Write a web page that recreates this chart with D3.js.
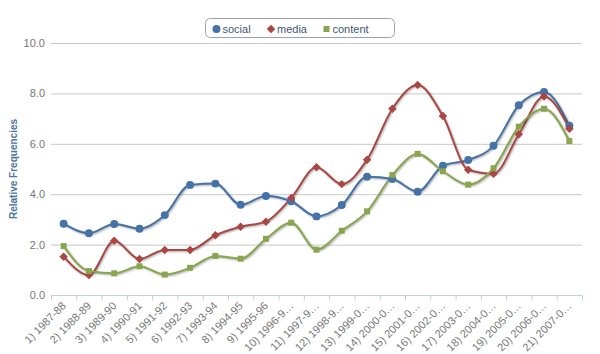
<!DOCTYPE html>
<html lang="en">
<head>
<meta charset="utf-8">
<script src="https://d3js.org/d3.v7.min.js"></script>
<style>
  body { margin: 0; background: #fff; }
  svg { font-family: "Lucida Grande", "Liberation Sans", Arial, sans-serif; }
</style>
</head>
<body>
<script>
// categories and series
const categories = ["1) 1987-88", "2) 1988-89", "3) 1989-90", "4) 1990-91", "5) 1991-92",
  "6) 1992-93", "7) 1993-94", "8) 1994-95", "9) 1995-96", "10) 1996-9\u2026", "11) 1997-9\u2026",
  "12) 1998-9\u2026", "13) 1999-0\u2026", "14) 2000-0\u2026", "15) 2001-0\u2026", "16) 2002-0\u2026",
  "17) 2003-0\u2026", "18) 2004-0\u2026", "19) 2005-0\u2026", "20) 2006-0\u2026", "21) 2007-0\u2026"];
const social = [2.83, 2.45, 2.82, 2.63, 3.17, 4.37, 4.42, 3.58, 3.93, 3.72, 3.12,
  3.57, 4.69, 4.6, 4.1, 5.13, 5.36, 5.92, 7.53, 8.06, 6.72];
const media = [1.52, 0.79, 2.15, 1.43, 1.79, 1.79, 2.37, 2.71, 2.91, 3.85, 5.07,
  4.4, 5.37, 7.39, 8.33, 7.1, 4.97, 4.81, 6.38, 7.88, 6.6];
const content = [1.94, 0.95, 0.86, 1.14, 0.81, 1.08, 1.55, 1.44, 2.23, 2.87, 1.8,
  2.55, 3.32, 4.76, 5.6, 4.91, 4.38, 5.03, 6.68, 7.39, 6.11];
const yTicks = [0, 2, 4, 6, 8, 10];

const width = 600, height = 354;
const margin = { left: 51, right: 18, top: 43, bottom: 59 };

// diamond = square turned 45 degrees
const series = [
  { name: "social", values: social, color: "#4572A7", symbol: d3.symbolCircle, size: 50, rot: 0 },
  { name: "media", values: media, color: "#AA4643", symbol: d3.symbolSquare, size: 36, rot: 45 },
  { name: "content", values: content, color: "#89A54E", symbol: d3.symbolSquare, size: 36, rot: 0 }
];

const svg = d3.select("body").append("svg")
  .attr("width", width)
  .attr("height", height);

const x = d3.scaleBand()
  .domain(categories)
  .range([margin.left, width - margin.right]);

const y = d3.scaleLinear()
  .domain([0, 10])
  .range([height - margin.bottom, margin.top]);

// grid lines
svg.append("g")
  .selectAll("line")
  .data(yTicks.filter(d => d > 0))
  .enter()
  .append("line")
  .attr("x1", margin.left)
  .attr("x2", width - margin.right)
  .attr("y1", d => y(d) + 0.5)
  .attr("y2", d => y(d) + 0.5)
  .attr("stroke", "#C8C8C8")
  .attr("stroke-width", 1);

// y axis labels
svg.append("g")
  .selectAll("text")
  .data(yTicks)
  .enter()
  .append("text")
  .attr("x", margin.left - 6)
  .attr("y", d => y(d) + 4)
  .attr("text-anchor", "end")
  .attr("fill", "#777")
  .attr("font-size", "11px")
  .text(d => d.toFixed(1));

// y axis title
svg.append("text")
  .attr("transform", "translate(17," + (margin.top + (height - margin.bottom - margin.top) / 2) + ") rotate(-90)")
  .attr("text-anchor", "middle")
  .attr("fill", "#4D759E")
  .attr("font-size", "10px")
  .attr("font-weight", "bold")
  .text("Relative Frequencies");

// x axis
const gx = svg.append("g")
  .attr("transform", "translate(0," + (height - margin.bottom + 0.5) + ")");
gx.append("line")
  .attr("x1", margin.left).attr("x2", width - margin.right)
  .attr("stroke", "#C0D0E0");
// ticks on category boundaries
gx.selectAll("line.tick")
  .data(categories.concat([null]))
  .enter()
  .append("line")
  .attr("class", "tick")
  .attr("x1", (d, i) => margin.left + i * x.step() + 0.5)
  .attr("x2", (d, i) => margin.left + i * x.step() + 0.5)
  .attr("y1", 0).attr("y2", 5)
  .attr("stroke", "#C0D0E0");

gx.selectAll("text")
  .data(categories)
  .enter()
  .append("text")
  .attr("transform", d => "translate(" + (x(d) + x.bandwidth() / 2 + 3) + ",11) rotate(-45)")
  .attr("text-anchor", "end")
  .attr("fill", "#777")
  .attr("font-size", "11px")
  .text(d => d);

const cx = (d, i) => x(categories[i]) + x.bandwidth() / 2;
const line = d3.line()
  .x(cx)
  .y(d => y(d))
  .curve(d3.curveMonotoneX);

// series lines with a light shadow
series.forEach(s => {
  const g = svg.append("g");
  [[5, 0.05], [3, 0.1], [1, 0.15]].forEach(([w, o]) => {
    g.append("path")
      .attr("d", line(s.values))
      .attr("transform", "translate(1,1)")
      .attr("fill", "none")
      .attr("stroke", "#000")
      .attr("stroke-opacity", o)
      .attr("stroke-width", w);
  });
  g.append("path")
    .attr("d", line(s.values))
    .attr("fill", "none")
    .attr("stroke", s.color)
    .attr("stroke-width", 2);
});

// markers
series.forEach(s => {
  svg.append("g")
    .selectAll("path")
    .data(s.values)
    .enter()
    .append("path")
    .attr("transform", (d, i) => "translate(" + cx(d, i) + "," + y(d) + ") rotate(" + s.rot + ")")
    .attr("d", d3.symbol().type(s.symbol).size(s.size))
    .attr("fill", s.color);
});

// legend
const legend = svg.append("g");
legend.append("rect")
  .attr("x", 205.5).attr("y", 18.5)
  .attr("width", 189).attr("height", 19)
  .attr("rx", 5)
  .attr("fill", "#fff")
  .attr("stroke", "#A0A0A0");
const legendX = [216.5, 271, 326.5];
series.forEach((s, i) => {
  legend.append("path")
    .attr("transform", "translate(" + legendX[i] + ",29) rotate(" + s.rot + ")")
    .attr("d", d3.symbol().type(s.symbol).size(s.size))
    .attr("fill", s.color);
  legend.append("text")
    .attr("x", legendX[i] + 6)
    .attr("y", 32.5)
    .attr("fill", "#3E576F")
    .attr("font-size", "11px")
    .text(s.name);
});
</script>
</body>
</html>
